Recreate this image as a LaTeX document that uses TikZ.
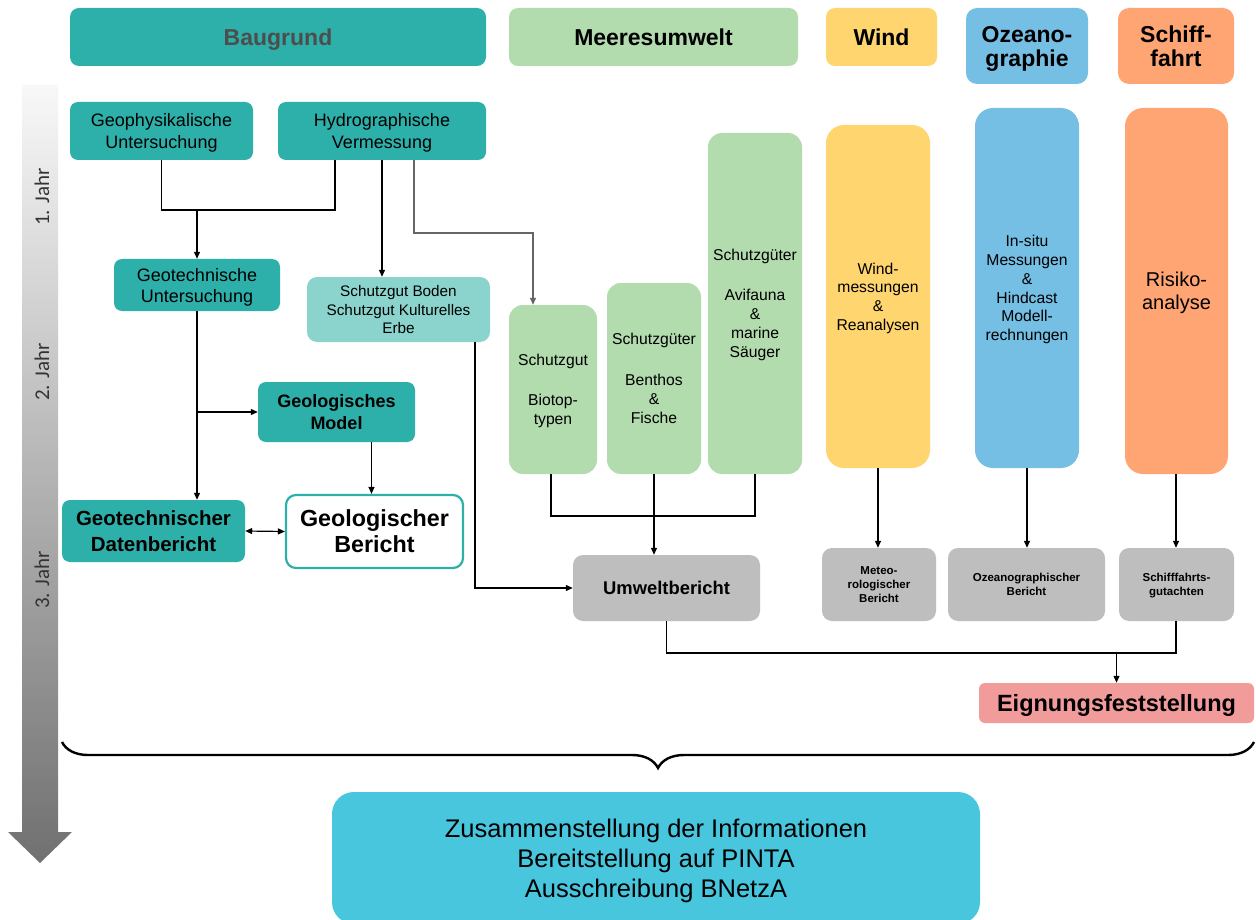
\documentclass[tikz,border=0pt]{standalone}
\usepackage{fontspec}
\setmainfont{Liberation Sans}
\newfontfamily\calib{Carlito}
\usetikzlibrary{arrows.meta,decorations.pathreplacing,calc}
\definecolor{teal1}{RGB}{46,176,170}
\definecolor{tealL}{RGB}{139,212,206}
\definecolor{green1}{RGB}{178,219,174}
\definecolor{yell1}{RGB}{254,213,111}
\definecolor{blue1}{RGB}{117,190,228}
\definecolor{oran1}{RGB}{255,165,116}
\definecolor{gray1}{RGB}{190,190,190}
\definecolor{pink1}{RGB}{241,155,155}
\definecolor{cyan1}{RGB}{72,198,222}
\definecolor{hdgray}{RGB}{77,77,77}
\definecolor{yrgray}{RGB}{51,51,51}
\newcommand\fs[2]{\fontsize{#1}{#2}\selectfont}
\tikzset{
  bx/.style 2 args={draw=none, align=center, inner sep=1pt, text depth=0pt, minimum width=#1pt, minimum height=#2pt, text=black},
  rc/.style={rounded corners=#1pt},
  ln/.style={line width=1.2pt, draw=black},
  arr/.style={ln, -{Triangle[length=7pt,width=6pt]}},
  darr/.style={ln, {Triangle[length=7pt,width=6pt]}-{Triangle[length=7pt,width=6pt]}},
  garr/.style={line width=1.2pt, draw=gray!80!black, -{Triangle[length=7pt,width=6pt]}},
}
\begin{document}
\begin{tikzpicture}[x=1pt,y=-1pt]
\clip (0,0) rectangle (1256,920);
\fill[white] (0,0) rectangle (1256,920);

% time arrow
\shade[top color={rgb,255:red,248;green,248;blue,248}, bottom color={rgb,255:red,112;green,112;blue,112}]
  (22,85) -- (58,85) -- (58,832) -- (72,832) -- (40,863) -- (8,832) -- (22,832) -- cycle;
\node[rotate=90, text=yrgray, font=\calib\fs{21}{24}] (y1) at (42,197) {1. Jahr};
\node[rotate=90, text=yrgray, font=\calib\fs{21}{24}] (y2) at (42,372) {2. Jahr};
\node[rotate=90, text=yrgray, font=\calib\fs{21}{24}] (y3) at (42,580) {3. Jahr};

% headers
\node[bx={416}{58}, rc=9, fill=teal1, text=hdgray, font=\bfseries\fs{23}{24}] (hb) at (278,37) {Baugrund};
\node[bx={289}{58}, rc=9, fill=green1, font=\bfseries\fs{23}{24}] (hm) at (653.5,37) {Meeresumwelt};
\node[bx={111}{58}, rc=9, fill=yell1, font=\bfseries\fs{23}{24}] (hw) at (881.5,37) {Wind};
\node[bx={122}{76}, rc=11, fill=blue1, font=\bfseries\fs{23}{24}] (ho) at (1027,46) {Ozeano-\\graphie};
\node[bx={116}{76}, rc=11, fill=oran1, font=\bfseries\fs{23}{24}] (hs) at (1176,46) {Schiff-\\fahrt};

% Baugrund column
\node[bx={183}{58}, rc=8, fill=teal1, font=\fs{18}{22}] (geophys) at (161.5,131) {Geophysikalische\\Untersuchung};
\node[bx={208}{58}, rc=8, fill=teal1, font=\fs{18}{22}] (hydro) at (382,131) {Hydrographische\\Vermessung};
\node[bx={166}{52}, rc=8, fill=teal1, font=\fs{18}{21}] (geotu) at (197,285) {Geotechnische\\Untersuchung};
\node[bx={183}{65}, rc=10, fill=tealL, font=\fs{15.3}{18.5}] (boden) at (398.5,309.5) {Schutzgut Boden\\Schutzgut Kulturelles\\Erbe};
\node[bx={157}{60}, rc=8, fill=teal1, font=\bfseries\fs{18}{22}] (geomod) at (336.5,412) {Geologisches\\Model};
\node[bx={183}{62}, rc=8, fill=teal1, font=\bfseries\fs{20.5}{26}] (datb) at (153.5,531) {Geotechnischer\\Datenbericht};
\node[bx={177}{73}, rc=10, fill=white, draw=teal1, line width=2.2pt, font=\bfseries\fs{23.3}{26}] (gber) at (374.5,531.5) {Geologischer\\Bericht};

% Meeresumwelt column
\node[bx={88}{169}, rc=14, fill=green1, font=\fs{15.7}{19}] (biotop) at (553,389.5) {Schutzgut\\[21pt]Biotop-\\typen};
\node[bx={94}{191}, rc=14, fill=green1, font=\fs{15.7}{19}] (benthos) at (654,378.5) {Schutzgüter\\[22pt]Benthos\\\&\\Fische};
\node[bx={94}{341}, rc=14, fill=green1, font=\fs{15.7}{19}] (avi) at (755,303.5) {Schutzgüter\\[21pt]Avifauna\\\&\\marine\\Säuger};

% Wind / Ozeano / Schiff columns
\node[bx={104}{343}, rc=18, fill=yell1, font=\fs{15.7}{18.7}] (windm) at (878,296.5) {Wind-\\messungen\\\&\\Reanalysen};
\node[bx={104}{360}, rc=18, fill=blue1, font=\fs{15.7}{18.8}] (insitu) at (1027,288) {In-situ\\Messungen\\\&\\Hindcast\\Modell-\\rechnungen};
\node[bx={103}{366}, rc=18, fill=oran1, font=\fs{20}{23}] (risk) at (1176.5,291) {Risiko-\\analyse};

% reports
\node[bx={187}{66}, rc=10, fill=gray1, font=\bfseries\fs{18.4}{20}] (umwelt) at (666.5,588) {Umweltbericht};
\node[bx={114}{73}, rc=10, fill=gray1, font=\bfseries\fs{11.5}{14}] (meteo) at (879,584.5) {Meteo-\\rologischer\\Bericht};
\node[bx={157}{73}, rc=10, fill=gray1, font=\bfseries\fs{11.5}{14}] (ozean) at (1026.5,584.5) {Ozeanographischer\\Bericht};
\node[bx={115}{73}, rc=10, fill=gray1, font=\bfseries\fs{11.5}{14}] (schiff) at (1176.5,584.5) {Schifffahrts-\\gutachten};
\node[bx={275}{40}, rc=6, fill=pink1, font=\bfseries\fs{23.5}{25}] (eign) at (1116.5,703) {Eignungsfeststellung};
\node[bx={648}{132}, rc=22, fill=cyan1, font=\fs{25.5}{30}] (final) at (656,858) {Zusammenstellung der Informationen\\Bereitstellung auf PINTA\\Ausschreibung BNetzA};

% connectors: Baugrund
\coordinate (j1) at (0,210);
\coordinate (hydroL) at ([xshift=-47pt]hydro.south);
\draw[ln] (geophys.south) -- (geophys.south |- j1) -- (hydroL |- j1) -- (hydroL);
\draw[arr] (geotu.north |- j1) -- (geotu.north);
\draw[arr] (hydro.south) -- (hydro.south |- boden.north);
\coordinate (hydroR) at ([xshift=32pt]hydro.south);
\coordinate (gy) at (0,233);
\coordinate (btin) at ([xshift=-20pt]biotop.north);
\draw[garr] (hydroR) -- (hydroR |- gy) -- (btin |- gy) -- (btin);
\draw[arr] (geotu.south) -- (geotu.south |- datb.north);
\draw[arr] (geotu.south |- geomod.west) -- (geomod.west);
\coordinate (gmo) at ([xshift=35pt]geomod.south);
\draw[arr] (gmo) -- (gmo |- gber.north);
\draw[darr] (datb.east) -- (gber.west);
\coordinate (bo) at ([xshift=76.5pt]boden.south);
\draw[arr] (bo) |- (umwelt.west);

% connectors: Meeresumwelt
\coordinate (j2) at (0,516);
\draw[ln] ([xshift=-2pt]biotop.south) -- ([xshift=-2pt]biotop.south |- j2) -- (avi.south |- j2) -- (avi.south);
\draw[arr] (benthos.south) -- (benthos.south |- umwelt.north);

% connectors: right columns
\draw[arr] (windm.south) -- (windm.south |- meteo.north);
\draw[arr] (insitu.south) -- (insitu.south |- ozean.north);
\draw[arr] ([xshift=-0.5pt]risk.south) -- ([xshift=-0.5pt]risk.south |- schiff.north);

% to Eignungsfeststellung
\coordinate (j3) at (0,653);
\draw[ln] (umwelt.south) -- (umwelt.south |- j3) -- ([xshift=-0.5pt]schiff.south |- j3) -- ([xshift=-0.5pt]schiff.south);
\draw[arr] (eign.north |- j3) -- (eign.north);

% brace
\coordinate (bl) at (62,742);
\coordinate (br) at (1254,742);
\draw[line width=2.4pt, decorate, decoration={brace, mirror, amplitude=26pt, aspect=0.5}] (bl) -- (br);
\end{tikzpicture}
\end{document}
